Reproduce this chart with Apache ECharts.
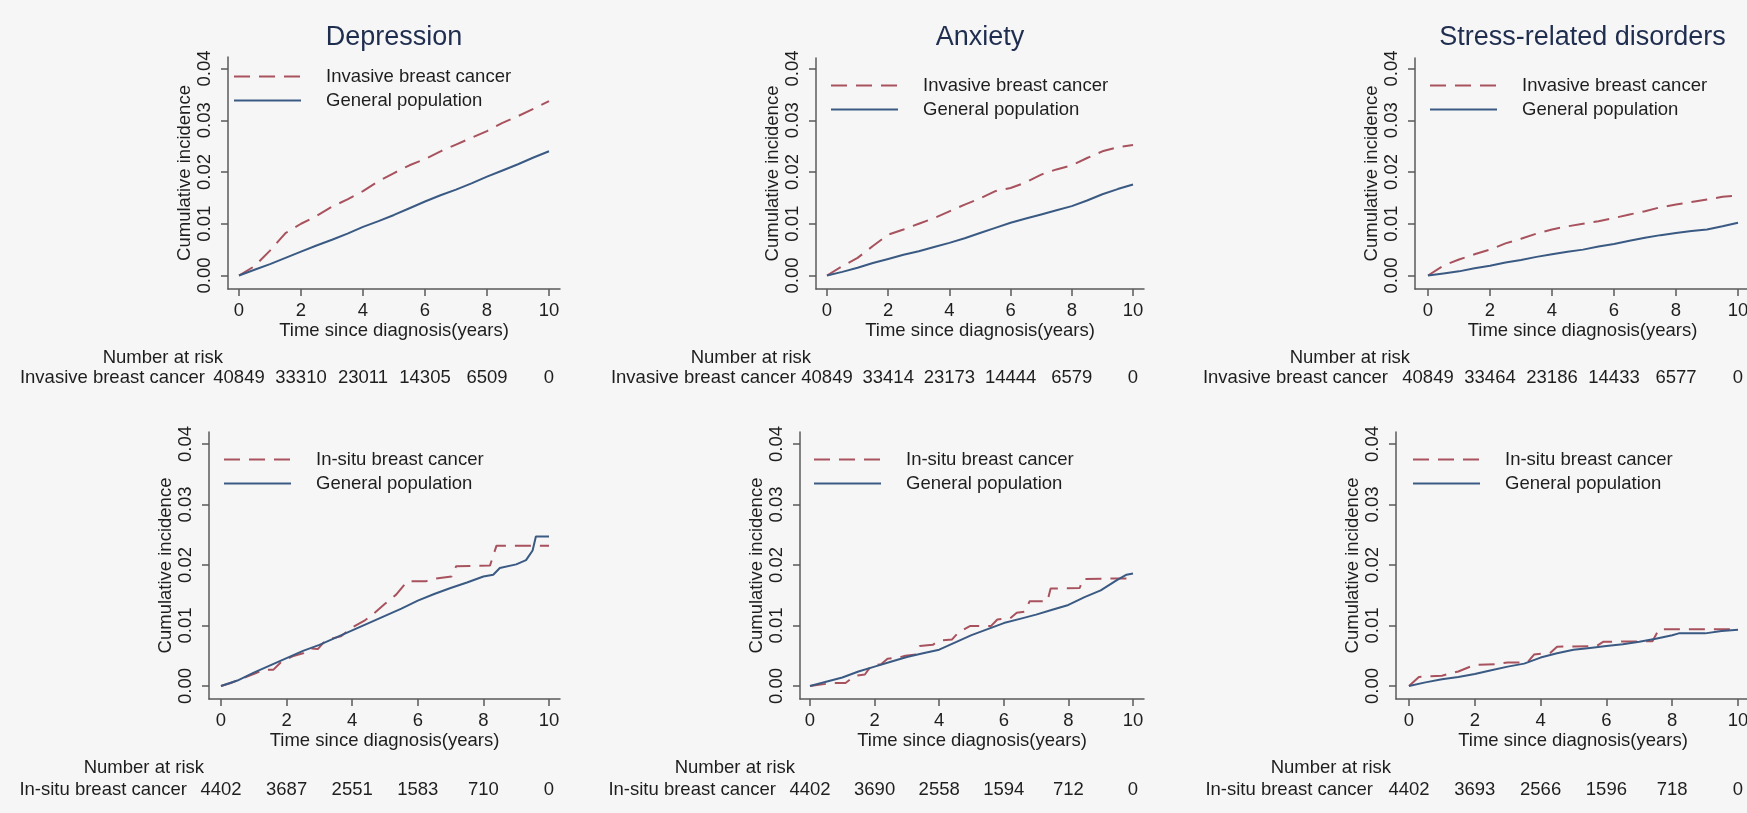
<!DOCTYPE html>
<html>
<head>
<meta charset="utf-8">
<script src="https://cdn.jsdelivr.net/npm/echarts@6.0.0/dist/echarts.min.js"></script>
<style>
html,body{margin:0;padding:0;background:#f6f6f6;}
#chart{width:1747px;height:813px;}
</style>
</head>
<body>
<div id="chart"></div>
<script>
// ---------------- DATA ----------------
const xTicks = [0, 2, 4, 6, 8, 10];
const yTicks = [0, 0.01, 0.02, 0.03, 0.04];
const panelTitles = ['Depression', 'Anxiety', 'Stress-related disorders'];
const invasiveLabel = 'Invasive breast cancer';
const insituLabel = 'In-situ breast cancer';
const generalLabel = 'General population';
const xTitle = 'Time since diagnosis(years)';
const yTitle = 'Cumulative incidence';
const riskTitle = 'Number at risk';

// Numbers at risk at years 0,2,4,6,8,10
const riskDepInv = [40849, 33310, 23011, 14305, 6509, 0];
const riskAnxInv = [40849, 33414, 23173, 14444, 6579, 0];
const riskStrInv = [40849, 33464, 23186, 14433, 6577, 0];
const riskDepIns = [4402, 3687, 2551, 1583, 710, 0];
const riskAnxIns = [4402, 3690, 2558, 1594, 712, 0];
const riskStrIns = [4402, 3693, 2566, 1596, 718, 0];

// Top row (invasive) – time points (years)
const tInv = [0, 0.5, 1, 1.5, 2, 2.5, 3, 3.5, 4, 4.5, 5, 5.5, 6, 6.5, 7, 7.5, 8, 8.5, 9, 9.5, 10];
const depInv = [0, 0.0018, 0.0048, 0.0082, 0.0100, 0.0115, 0.0133, 0.0147, 0.0163, 0.0182, 0.0198, 0.0213, 0.0225, 0.0240, 0.0253, 0.0266, 0.0279, 0.0295, 0.0308, 0.0322, 0.0337];
const depInvGen = [0, 0.0011, 0.0022, 0.0034, 0.0046, 0.0058, 0.0069, 0.0081, 0.0094, 0.0105, 0.0117, 0.0130, 0.0143, 0.0155, 0.0166, 0.0178, 0.0191, 0.0203, 0.0215, 0.0228, 0.0240];
const anxInv = [0, 0.0018, 0.0034, 0.0057, 0.0079, 0.0089, 0.0100, 0.0111, 0.0124, 0.0137, 0.0149, 0.0163, 0.0169, 0.0180, 0.0195, 0.0205, 0.0213, 0.0227, 0.0240, 0.0248, 0.0252];
const anxInvGen = [0, 0.0007, 0.0015, 0.0024, 0.0032, 0.0040, 0.0047, 0.0055, 0.0063, 0.0072, 0.0082, 0.0092, 0.0102, 0.0110, 0.0118, 0.0126, 0.0134, 0.0145, 0.0157, 0.0167, 0.0176];
const strInv = [0, 0.0019, 0.0031, 0.0041, 0.0050, 0.0062, 0.0071, 0.0081, 0.0089, 0.0095, 0.0100, 0.0105, 0.0111, 0.0118, 0.0124, 0.0132, 0.0137, 0.0142, 0.0147, 0.0152, 0.0155];
const strInvGen = [0, 0.0004, 0.0008, 0.0014, 0.0019, 0.0025, 0.0030, 0.0036, 0.0041, 0.0046, 0.0050, 0.0056, 0.0061, 0.0067, 0.0073, 0.0078, 0.0082, 0.0086, 0.0089, 0.0095, 0.0102];

// Bottom row (in-situ)
const tDepIns = [0, 0.3, 1.05, 1.3, 1.6, 1.84, 2.18, 2.5, 2.7, 2.95, 3.2, 3.65, 4.04, 4.4, 4.66, 5.0, 5.34, 5.68, 6.24, 6.47, 7.03, 7.17, 8.2, 8.4, 10];
const depIns = [0, 0.0005, 0.0021, 0.0027, 0.0027, 0.0040, 0.0049, 0.0054, 0.0062, 0.0061, 0.0076, 0.0082, 0.0098, 0.0109, 0.0120, 0.0136, 0.0151, 0.0173, 0.0173, 0.0177, 0.0181, 0.0198, 0.0199, 0.0232, 0.0232];
const tDepInsGen = [0, 0.5, 1, 1.5, 2, 2.5, 3, 3.5, 4, 4.5, 5, 5.5, 6, 6.5, 7, 7.5, 8, 8.3, 8.5, 9, 9.3, 9.5, 9.6, 10];
const depInsGen = [0, 0.0009, 0.0022, 0.0034, 0.0046, 0.0058, 0.0068, 0.0080, 0.0092, 0.0104, 0.0116, 0.0128, 0.0141, 0.0152, 0.0162, 0.0171, 0.0181, 0.0184, 0.0195, 0.0201, 0.0208, 0.0224, 0.0247, 0.0247];

const tAnxIns = [0, 0.7, 1.1, 1.4, 1.7, 1.9, 2.2, 2.4, 2.75, 2.95, 3.3, 3.4, 3.8, 4.0, 4.4, 4.6, 4.95, 5.6, 5.8, 6.2, 6.4, 6.65, 6.8, 7.35, 7.45, 8.35, 8.45, 10];
const anxIns = [0, 0.0005, 0.0005, 0.0017, 0.0019, 0.0034, 0.0036, 0.0045, 0.0047, 0.0050, 0.0052, 0.0066, 0.0068, 0.0075, 0.0077, 0.0089, 0.0099, 0.0099, 0.0110, 0.0112, 0.0121, 0.0123, 0.0140, 0.0140, 0.0161, 0.0162, 0.0177, 0.0178];
const tAnxInsGen = [0, 0.5, 1, 1.5, 2, 2.5, 3, 3.5, 4, 4.5, 5, 5.5, 6, 6.5, 7, 7.5, 8, 8.5, 9, 9.5, 9.8, 10];
const anxInsGen = [0, 0.0007, 0.0014, 0.0024, 0.0032, 0.0040, 0.0048, 0.0054, 0.0060, 0.0072, 0.0084, 0.0094, 0.0104, 0.0111, 0.0118, 0.0126, 0.0134, 0.0147, 0.0158, 0.0175, 0.0184, 0.0186];

const tStrIns = [0, 0.3, 1.0, 1.5, 2.0, 2.6, 3.0, 3.6, 3.8, 4.3, 4.5, 5.7, 5.9, 7.4, 7.6, 10];
const strIns = [0, 0.0015, 0.0017, 0.0024, 0.0035, 0.0036, 0.0039, 0.0039, 0.0052, 0.0055, 0.0065, 0.0066, 0.0073, 0.0074, 0.0094, 0.0094];
const tStrInsGen = [0, 0.5, 1, 1.5, 2, 2.5, 3, 3.5, 4, 4.5, 5, 5.5, 6, 6.5, 7, 7.5, 8, 8.2, 9, 9.5, 10];
const strInsGen = [0, 0.0006, 0.0011, 0.0015, 0.0020, 0.0026, 0.0032, 0.0037, 0.0047, 0.0054, 0.0060, 0.0063, 0.0066, 0.0069, 0.0073, 0.0078, 0.0084, 0.0087, 0.0087, 0.0091, 0.0093];

// ---------------- LAYOUT (pixels) ----------------
const FONT = '"Liberation Sans", Arial, sans-serif';
const FS = 18.5;
const TEXT = '#1e1e1e';
const AXIS = '#5a5a5a';
const RED = '#a8525e';
const BLUE = '#3a5a83';

const panels = [
  {title: panelTitles[0], label: invasiveLabel, risk: riskDepInv, tA: tInv, a: depInv, tB: tInv, b: depInvGen,
   L: 228, R: 560, T: 57, B: 289, x0: 239, x10: 549, y0: 275.5, y4: 68.5, legL: 233, legY: 74, gap: 23, riskY: 378, narY: 358},
  {title: panelTitles[1], label: invasiveLabel, risk: riskAnxInv, tA: tInv, a: anxInv, tB: tInv, b: anxInvGen,
   L: 816, R: 1144, T: 58, B: 289, x0: 827, x10: 1133, y0: 275.5, y4: 68.5, legL: 830, legY: 83, gap: 20, riskY: 378, narY: 358},
  {title: panelTitles[2], label: invasiveLabel, risk: riskStrInv, tA: tInv, a: strInv, tB: tInv, b: strInvGen,
   L: 1415, R: 1750, T: 58, B: 289, x0: 1428, x10: 1738, y0: 275.5, y4: 68.5, legL: 1429, legY: 83, gap: 27, riskY: 378, narY: 358},
  {title: null, label: insituLabel, risk: riskDepIns, tA: tDepIns, a: depIns, tB: tDepInsGen, b: depInsGen,
   L: 209, R: 560, T: 432, B: 699, x0: 221, x10: 549, y0: 686, y4: 444, legL: 223, legY: 457, gap: 22, riskY: 790, narY: 768},
  {title: null, label: insituLabel, risk: riskAnxIns, tA: tAnxIns, a: anxIns, tB: tAnxInsGen, b: anxInsGen,
   L: 800, R: 1144, T: 432, B: 699, x0: 810, x10: 1133, y0: 686, y4: 444, legL: 813, legY: 457, gap: 24, riskY: 790, narY: 768},
  {title: null, label: insituLabel, risk: riskStrIns, tA: tStrIns, a: strIns, tB: tStrInsGen, b: strInsGen,
   L: 1396, R: 1750, T: 432, B: 699, x0: 1409, x10: 1738, y0: 686, y4: 444, legL: 1412, legY: 457, gap: 23, riskY: 790, narY: 768}
];

const zip = (t, v) => t.map((x, i) => [x, v[i]]);

const option = {
  backgroundColor: '#f6f6f6',
  animation: false,
  textStyle: {fontFamily: FONT, color: TEXT},
  title: [], grid: [], xAxis: [], yAxis: [], series: [], legend: [], graphic: []
};

panels.forEach((p, i) => {
  const pxPerYr = (p.x10 - p.x0) / 10;
  const xmin = -(p.x0 - p.L) / pxPerYr;
  const xmax = 10 + (p.R - p.x10) / pxPerYr;
  const pxPerUnit = (p.y0 - p.y4) / 0.04;
  const ymin = -(p.B - p.y0) / pxPerUnit;
  const ymax = 0.04 + (p.y4 - p.T) / pxPerUnit;

  option.grid.push({left: p.L, top: p.T, width: p.R - p.L, height: p.B - p.T, containLabel: false, outerBoundsMode: 'none'});

  if (p.title) {
    option.title.push({
      text: p.title, left: (p.L + p.R) / 2, top: 24, textAlign: 'center', padding: 0,
      textStyle: {fontFamily: FONT, fontSize: 27, fontWeight: 'normal', color: '#1f2d4f'}
    });
  }

  option.xAxis.push({
    type: 'value', gridIndex: i, min: xmin, max: xmax,
    axisLine: {show: true, onZero: false, lineStyle: {color: AXIS, width: 1.5}},
    axisTick: {show: true, length: 7, customValues: xTicks, lineStyle: {color: AXIS, width: 1.5}},
    axisLabel: {customValues: xTicks, fontSize: FS, color: TEXT, margin: 12, fontFamily: FONT},
    splitLine: {show: false},
    name: xTitle, nameLocation: 'middle', nameGap: 32, nameMoveOverlap: false,
    nameTextStyle: {fontSize: FS, color: TEXT, fontFamily: FONT}
  });
  option.xAxis.push({
    type: 'value', gridIndex: i, min: xmin, max: xmax, position: 'bottom', offset: p.riskY - p.B,
    axisLine: {show: false, onZero: false}, axisTick: {show: false}, splitLine: {show: false},
    axisLabel: {customValues: xTicks, fontSize: FS, color: TEXT, margin: 0, verticalAlign: 'middle', fontFamily: FONT,
                formatter: v => String(p.risk[xTicks.indexOf(v)])},
    name: p.label, nameLocation: 'start', nameGap: p.gap, nameMoveOverlap: false,
    nameTextStyle: {fontSize: FS, color: TEXT, fontFamily: FONT, align: 'right', verticalAlign: 'middle'}
  });
  option.yAxis.push({
    type: 'value', gridIndex: i, min: ymin, max: ymax,
    axisLine: {show: true, onZero: false, lineStyle: {color: AXIS, width: 1.5}},
    axisTick: {show: true, length: 7, customValues: yTicks, lineStyle: {color: AXIS, width: 1.5}},
    axisLabel: {customValues: yTicks, rotate: 90, fontSize: FS, color: TEXT, margin: 14, fontFamily: FONT,
                formatter: v => v.toFixed(2)},
    splitLine: {show: false},
    name: yTitle, nameLocation: 'middle', nameRotate: 90, nameGap: 34, nameMoveOverlap: false,
    nameTextStyle: {fontSize: FS, color: TEXT, fontFamily: FONT}
  });

  option.series.push({
    type: 'line', name: p.label, xAxisIndex: 2 * i, yAxisIndex: i, data: zip(p.tA, p.a),
    symbol: 'none', showSymbol: false, silent: true, z: 2,
    lineStyle: {color: RED, width: 2, type: [16, 9]}, itemStyle: {color: RED}
  });
  option.series.push({
    type: 'line', name: generalLabel, xAxisIndex: 2 * i, yAxisIndex: i, data: zip(p.tB, p.b),
    symbol: 'none', showSymbol: false, silent: true, z: 3,
    lineStyle: {color: BLUE, width: 2, type: 'solid'}, itemStyle: {color: BLUE}
  });

  option.legend.push({
    data: [p.label, generalLabel], orient: 'vertical', left: p.legL, top: p.legY - 7,
    itemWidth: 67, itemHeight: 14, itemGap: 5, padding: 0, selectedMode: false,
    itemStyle: {opacity: 0, borderWidth: 0},
    textStyle: {fontSize: FS, color: TEXT, fontFamily: FONT, padding: [0, 0, 0, 20]}
  });

  option.graphic.push({
    type: 'text', x: p.L - 5, y: p.narY,
    style: {text: riskTitle, textAlign: 'right', textVerticalAlign: 'middle', font: FS + 'px ' + FONT, fill: TEXT}
  });
});

const chart = echarts.init(document.getElementById('chart'), null, {renderer: 'canvas'});
chart.setOption(option);
</script>
</body>
</html>
